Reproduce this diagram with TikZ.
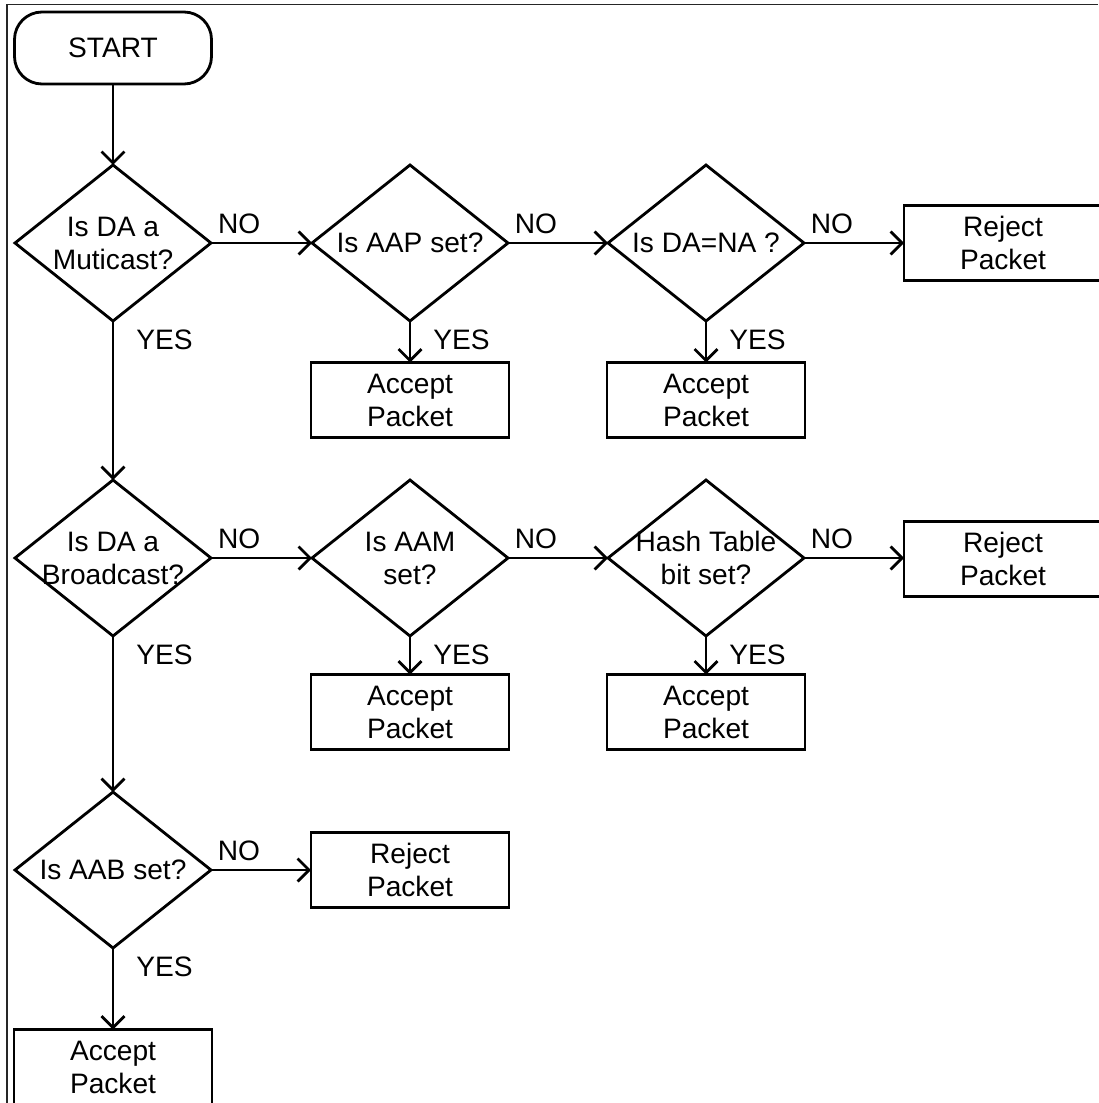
\documentclass[tikz,border=0pt]{standalone}
\usepackage{fontspec}
\setmainfont{Liberation Sans}
\usetikzlibrary{shapes.geometric,arrows.meta}

\begin{document}
\begin{tikzpicture}[
	font=\fontsize{16}{18.8}\selectfont,
	line width=1.6pt,
	terminal/.style={rectangle, draw, minimum width=3.94cm, minimum height=1.44cm, rounded corners=0.55cm, outer sep=0pt},
	decision/.style={diamond, draw, minimum width=3.92cm, minimum height=3.12cm, inner sep=0pt, outer sep=0pt},
	decisiontext/.style={align=center, inner sep=0pt},
	packet/.style={rectangle, draw, minimum width=3.96cm, minimum height=1.5cm, align=center, outer sep=0pt},
	link/.style={-{Straight Barb[length=6.5pt,width=13pt]}},
	nolabel/.style={pos=0.28, anchor=south, inner sep=0pt, yshift=0.16cm},
	yeslabel/.style={pos=0, anchor=north west, inner sep=0pt, xshift=0.44cm, yshift=-0.15cm}
	]
	
	\useasboundingbox (0,0) rectangle (21.96,-22.06);
	
	%Frame
	\draw[line width=0.8pt, black!85] (0.14,-22.06) |- (21.96,-0.09);
	
	%Nodes
	\node (Start) at (2.26,-0.96) [terminal]{START};
	
	\node (Multicast) at (2.26,-4.86) [decision]{};
	\node (MulticastText) at (Multicast) [decisiontext]{Is DA a\\Muticast?};
	\node (AAP) at (8.20,-4.86) [decision]{};
	\node (AAPText) at (AAP) [decisiontext]{Is AAP set?};
	\node (DANA) at (14.12,-4.86) [decision]{};
	\node (DANAText) at (DANA) [decisiontext]{Is DA=NA ?};
	
	\node (Broadcast) at (2.26,-11.16) [decision]{};
	\node (BroadcastText) at (Broadcast) [decisiontext]{Is DA a\\Broadcast?};
	\node (AAM) at (8.20,-11.16) [decision]{};
	\node (AAMText) at (AAM) [decisiontext]{Is AAM\\set?};
	\node (HashTable) at (14.12,-11.16) [decision]{};
	\node (HashTableText) at (HashTable) [decisiontext]{Hash Table\\bit set?};
	
	\node (AAB) at (2.26,-17.40) [decision]{};
	\node (AABText) at (AAB) [decisiontext]{Is AAB set?};
	
	%Packets
	\node (RejectDANA) at (20.06,-4.86) [packet]{Reject\\Packet};
	\node (AcceptAAP) at (8.20,-8.00) [packet]{Accept\\Packet};
	\node (AcceptDANA) at (14.12,-8.00) [packet]{Accept\\Packet};
	\node (RejectHash) at (20.06,-11.18) [packet]{Reject\\Packet};
	\node (AcceptAAM) at (8.20,-14.24) [packet]{Accept\\Packet};
	\node (AcceptHash) at (14.12,-14.24) [packet]{Accept\\Packet};
	\node (RejectAAB) at (8.20,-17.40) [packet]{Reject\\Packet};
	\node (AcceptAAB) at (2.26,-21.34) [packet]{Accept\\Packet};
	
	%Links
	\draw[link] (Start) -- (Multicast);
	\draw[link] (Multicast.east) -- node[nolabel]{NO} (AAP.west);
	\draw[link] (AAP.east) -- node[nolabel]{NO} (DANA.west);
	\draw[link] (DANA.east) -- node[nolabel]{NO} (RejectDANA.west);
	\draw[link] (AAP.south) -- node[yeslabel]{YES} (AcceptAAP.north);
	\draw[link] (DANA.south) -- node[yeslabel]{YES} (AcceptDANA.north);
	\draw[link] (Multicast.south) -- node[yeslabel]{YES} (Broadcast.north);
	
	\draw[link] (Broadcast.east) -- node[nolabel]{NO} (AAM.west);
	\draw[link] (AAM.east) -- node[nolabel]{NO} (HashTable.west);
	\draw[link] (HashTable.east) -- node[nolabel]{NO} (RejectHash.west |- HashTable.east);
	\draw[link] (AAM.south) -- node[yeslabel]{YES} (AcceptAAM.north);
	\draw[link] (HashTable.south) -- node[yeslabel]{YES} (AcceptHash.north);
	\draw[link] (Broadcast.south) -- node[yeslabel]{YES} (AAB.north);
	
	\draw[link] (AAB.east) -- node[nolabel]{NO} (RejectAAB.west);
	\draw[link] (AAB.south) -- node[yeslabel]{YES} (AcceptAAB.north);
	
\end{tikzpicture}
\end{document}
